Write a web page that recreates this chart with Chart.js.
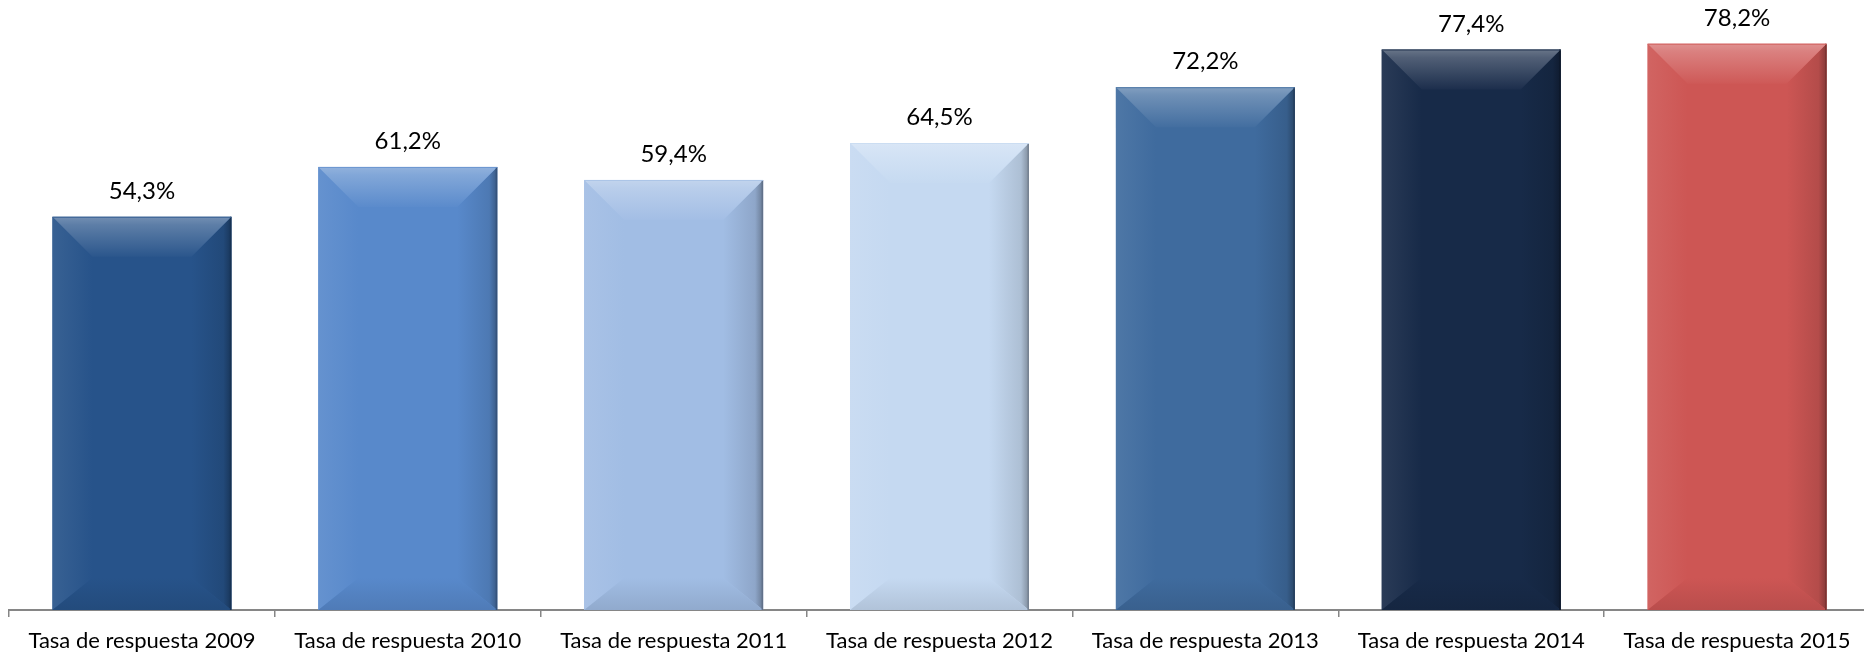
<!DOCTYPE html>
<html>
<head>
<meta charset="utf-8">
<script src="https://cdn.jsdelivr.net/npm/chart.js@4.4.1/dist/chart.umd.min.js"></script>
<style>
    html, body { margin: 0; padding: 0; background: #fff; overflow: hidden; }
    #wrap { position: absolute; left: 0; top: 0; width: 1872px; height: 653px; }
</style>
</head>
<body>
<div id="wrap"><canvas id="rateChart"></canvas></div>
<script>
// values
var categories = [
    'Tasa de respuesta 2009',
    'Tasa de respuesta 2010',
    'Tasa de respuesta 2011',
    'Tasa de respuesta 2012',
    'Tasa de respuesta 2013',
    'Tasa de respuesta 2014',
    'Tasa de respuesta 2015'
];
var rates = [54.3, 61.2, 59.4, 64.5, 72.2, 77.4, 78.2];
var barColors = ['#27538a', '#5889cb', '#a1bde4', '#c5d9f1', '#3f6b9e', '#172a48', '#cd5654'];

function shade(hex, amt) {
    // amt > 0 lightens toward white, < 0 darkens toward black
    var n = parseInt(hex.slice(1), 16);
    var r = (n >> 16) & 255, g = (n >> 8) & 255, b = n & 255;
    function f(c) { return Math.round(amt > 0 ? c + (255 - c) * amt : c * (1 + amt)); }
    return 'rgb(' + f(r) + ',' + f(g) + ',' + f(b) + ')';
}

// bevel look plus value labels, drawn on the bar elements the library laid out
var bevelPlugin = {
    id: 'bevel',
    afterDatasetsDraw: function (chart) {
        var ctx = chart.ctx;
        var meta = chart.getDatasetMeta(0);
        meta.data.forEach(function (bar, i) {
            var c = barColors[i];
            var l = bar.x - bar.width / 2, r = bar.x + bar.width / 2;
            var t = bar.y, b = bar.base;
            var d = 40, db = 32;
            ctx.save();
            // left strip
            var g = ctx.createLinearGradient(l, 0, l + d, 0);
            g.addColorStop(0, shade(c, 0.08));
            g.addColorStop(1, c);
            ctx.fillStyle = g;
            ctx.beginPath();
            ctx.moveTo(l, t); ctx.lineTo(l + d, t + d); ctx.lineTo(l + d, b - db); ctx.lineTo(l, b);
            ctx.closePath(); ctx.fill();
            // right strip
            g = ctx.createLinearGradient(r - d, 0, r, 0);
            g.addColorStop(0, c);
            g.addColorStop(0.8, shade(c, -0.12));
            g.addColorStop(1, shade(c, -0.35));
            ctx.fillStyle = g;
            ctx.beginPath();
            ctx.moveTo(r, t); ctx.lineTo(r - d, t + d); ctx.lineTo(r - d, b - db); ctx.lineTo(r, b);
            ctx.closePath(); ctx.fill();
            // bottom strip
            g = ctx.createLinearGradient(0, b - db, 0, b);
            g.addColorStop(0, c);
            g.addColorStop(1, shade(c, -0.1));
            ctx.fillStyle = g;
            ctx.beginPath();
            ctx.moveTo(l, b); ctx.lineTo(l + d, b - db); ctx.lineTo(r - d, b - db); ctx.lineTo(r, b);
            ctx.closePath(); ctx.fill();
            // top strip
            g = ctx.createLinearGradient(0, t, 0, t + d);
            g.addColorStop(0, shade(c, 0.35));
            g.addColorStop(0.2, shade(c, 0.25));
            g.addColorStop(1, shade(c, 0.02));
            ctx.fillStyle = g;
            ctx.beginPath();
            ctx.moveTo(l, t); ctx.lineTo(r, t); ctx.lineTo(r - d, t + d); ctx.lineTo(l + d, t + d);
            ctx.closePath(); ctx.fill();
            // thin edges
            ctx.strokeStyle = shade(c, -0.4);
            ctx.lineWidth = 1.5;
            ctx.beginPath(); ctx.moveTo(r - 0.75, t); ctx.lineTo(r - 0.75, b); ctx.stroke();
            ctx.strokeStyle = shade(c, 0.1);
            ctx.lineWidth = 1;
            ctx.beginPath(); ctx.moveTo(l, t + 0.5); ctx.lineTo(r, t + 0.5); ctx.stroke();
            ctx.restore();

            ctx.save();
            ctx.fillStyle = '#000';
            ctx.font = '24px Lato, "Open Sans", sans-serif';
            ctx.textAlign = 'center';
            ctx.textBaseline = 'alphabetic';
            ctx.fillText(rates[i].toFixed(1).replace('.', ',') + '%', bar.x, t - 18);
            ctx.restore();
        });
    }
};

document.addEventListener('DOMContentLoaded', function () {
    var el = document.getElementById('rateChart');
    new Chart(el.getContext('2d'), {
        type: 'bar',
        data: {
            labels: categories,
            datasets: [
                {
                    data: rates,
                    backgroundColor: barColors,
                    borderWidth: 0,
                    categoryPercentage: 1,
                    barPercentage: 0.673
                }
            ]
        },
        options: {
            responsive: true,
            maintainAspectRatio: false,
            animation: false,
            layout: { padding: { left: 9, right: 2, top: 0, bottom: 0 } },
            plugins: { legend: { display: false }, tooltip: { enabled: false } },
            scales: {
                y: { display: false, min: 0, max: 84.25 },
                x: {
                    afterFit: function (scale) { scale.height = 43; },
                    border: { display: true, color: '#868686', width: 2 },
                    grid: {
                        display: true,
                        offset: true,
                        drawOnChartArea: false,
                        drawTicks: true,
                        tickLength: 7,
                        color: '#868686',
                        lineWidth: 1.5
                    },
                    ticks: {
                        color: '#000',
                        padding: 11,
                        maxRotation: 0,
                        autoSkip: false,
                        font: { family: 'Lato, "Open Sans", sans-serif', size: 22 }
                    }
                }
            }
        },
        plugins: [bevelPlugin]
    });
});
</script>
</body>
</html>
